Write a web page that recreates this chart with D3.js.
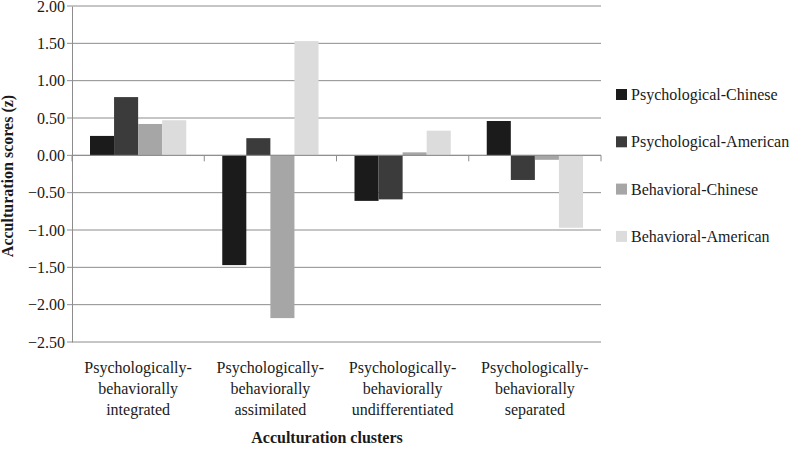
<!DOCTYPE html>
<html>
<head>
<meta charset="utf-8">
<script src="https://cdn.jsdelivr.net/npm/d3@7"></script>
<style>
  body { margin: 0; background: #fff; }
  svg { display: block; font-family: "Liberation Serif", "Times New Roman", serif; }
</style>
</head>
<body>
<script>
// Data
var clusters = [
  ["Psychologically-", "behaviorally", "integrated"],
  ["Psychologically-", "behaviorally", "assimilated"],
  ["Psychologically-", "behaviorally", "undifferentiated"],
  ["Psychologically-", "behaviorally", "separated"]
];
var seriesNames = ["Psychological-Chinese", "Psychological-American", "Behavioral-Chinese", "Behavioral-American"];
var psychChinese = [0.26, -1.47, -0.61, 0.46];
var psychAmerican = [0.78, 0.23, -0.59, -0.33];
var behavChinese = [0.42, -2.18, 0.04, -0.06];
var behavAmerican = [0.47, 1.53, 0.33, -0.97];
var yTicks = [-2.5, -2, -1.5, -1, -0.5, 0, 0.5, 1, 1.5, 2];

var colors = ["#1b1b1b", "#3b3b3b", "#a6a6a6", "#dcdcdc"];
var seriesValues = [psychChinese, psychAmerican, behavChinese, behavAmerican];

// Width and height
var w = 794;
var h = 450;
var plotL = 72, plotR = 601, plotT = 6, plotB = 342;

var svg = d3.select("body")
            .append("svg")
            .attr("width", w)
            .attr("height", h);

var y = d3.scaleLinear().domain([-2.5, 2]).range([plotB, plotT]);

var catIdx = d3.range(clusters.length);
var x0 = d3.scaleBand().domain(catIdx).range([plotL, plotR]).padding(0);
var x1 = d3.scaleBand().domain(d3.range(seriesNames.length))
           .range([18, x0.bandwidth() - 18]).padding(0);

// Gridlines
svg.append("g")
   .selectAll("line")
   .data(yTicks)
   .enter()
   .append("line")
   .attr("x1", plotL - 5)
   .attr("x2", plotR)
   .attr("y1", function(d){ return y(d); })
   .attr("y2", function(d){ return y(d); })
   .style("stroke", "#8c8c8c")
   .style("stroke-width", 1);

// Y axis
var yAxis = d3.axisLeft(y)
              .tickValues(yTicks)
              .tickFormat(d3.format(".2f"))
              .tickSize(0)
              .tickPadding(7);

var gy = svg.append("g")
            .attr("transform", "translate(" + plotL + ",0)")
            .call(yAxis)
            .attr("font-family", "Liberation Serif")
            .attr("font-size", 16);
gy.select(".domain").style("stroke", "#8c8c8c");
gy.selectAll("text")
  .style("fill", "#1a1a1a");

// Bars
var groups = svg.append("g")
   .selectAll("g")
   .data(catIdx)
   .enter()
   .append("g")
   .attr("transform", function(i){ return "translate(" + x0(i) + ",0)"; });

groups.selectAll("rect")
   .data(function(i){ return seriesValues.map(function(s, k){ return {k: k, v: s[i]}; }); })
   .enter()
   .append("rect")
   .attr("x", function(d){ return x1(d.k); })
   .attr("width", x1.bandwidth())
   .attr("y", function(d){ return y(Math.max(0, d.v)); })
   .attr("height", function(d){ return Math.abs(y(d.v) - y(0)); })
   .style("fill", function(d){ return colors[d.k]; });

// Zero line and category boundary ticks
svg.append("line")
   .attr("x1", plotL).attr("x2", plotR)
   .attr("y1", y(0)).attr("y2", y(0))
   .style("stroke", "#8c8c8c");

var bounds = catIdx.map(function(i){ return x0(i); }).concat([plotR]);
svg.append("g")
   .selectAll("line")
   .data(bounds)
   .enter()
   .append("line")
   .attr("x1", function(d){ return d; })
   .attr("x2", function(d){ return d; })
   .attr("y1", y(0))
   .attr("y2", y(0) + 6)
   .style("stroke", "#8c8c8c");

// Category labels
var lab = svg.append("g")
   .selectAll("text")
   .data(catIdx)
   .enter()
   .append("text")
   .attr("text-anchor", "middle")
   .style("font-size", "16px")
   .style("fill", "#1a1a1a");

lab.selectAll("tspan")
   .data(function(i){ return clusters[i].map(function(t){ return {i: i, t: t}; }); })
   .enter()
   .append("tspan")
   .attr("x", function(d){ return x0(d.i) + x0.bandwidth() / 2; })
   .attr("y", function(d, j){ return 373 + j * 21; })
   .text(function(d){ return d.t; });

// Axis titles
svg.append("text")
   .attr("x", 327)
   .attr("y", 443)
   .attr("text-anchor", "middle")
   .style("font-size", "16px")
   .style("font-weight", "bold")
   .style("fill", "#1a1a1a")
   .text("Acculturation clusters");

svg.append("text")
   .attr("transform", "translate(13,176) rotate(-90)")
   .attr("text-anchor", "middle")
   .style("font-size", "16px")
   .style("font-weight", "bold")
   .style("fill", "#1a1a1a")
   .text("Acculturation scores (z)");

// Legend
var legend = svg.append("g")
   .selectAll("g")
   .data(seriesNames)
   .enter()
   .append("g")
   .attr("transform", function(d, i){ return "translate(616," + (95 + i * 47.3) + ")"; });

legend.append("rect")
   .attr("x", 0).attr("y", -6)
   .attr("width", 11).attr("height", 11)
   .style("fill", function(d, i){ return colors[i]; });

legend.append("text")
   .attr("x", 15)
   .attr("y", 5)
   .style("font-size", "16px")
   .style("fill", "#1a1a1a")
   .text(function(d){ return d; });
</script>
</body>
</html>
